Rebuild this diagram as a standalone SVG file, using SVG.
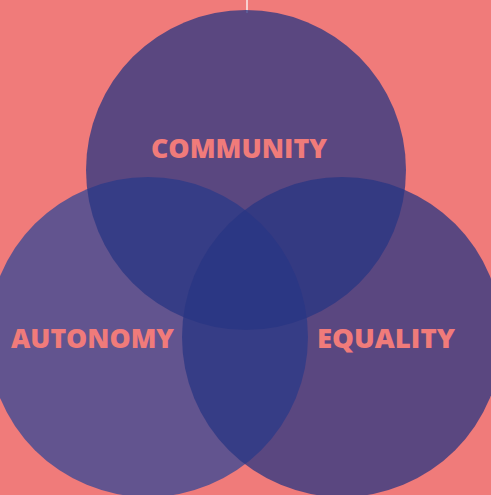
<svg xmlns="http://www.w3.org/2000/svg" width="491" height="495" viewBox="0 0 491 495">
<style>
.c{fill-opacity:0.75}
.t{font-family:"Open Sans","DejaVu Sans",sans-serif;font-weight:800;font-size:26px;fill:#F07B7A}
</style>
<rect width="491" height="495" fill="#F07B7A"/>
<g id="connectors">
<line x1="247" y1="0" x2="247" y2="13" stroke="#F8CFCF" stroke-width="2"/>
</g>
<g id="autonomy">
<circle class="c" cx="148" cy="337" r="160" fill="#334797"/>
</g>
<g id="community">
<circle class="c" cx="246" cy="170" r="160" fill="#283583"/>
</g>
<g id="equality">
<circle class="c" cx="342" cy="337" r="160" fill="#283583"/>
</g>
<g id="labels">
<text class="t" x="151" y="158" textLength="176" lengthAdjust="spacingAndGlyphs">COMMUNITY</text>
<text class="t" x="11" y="348" textLength="163" lengthAdjust="spacingAndGlyphs">AUTONOMY</text>
<text class="t" x="317" y="348" textLength="138" lengthAdjust="spacingAndGlyphs">EQUALITY</text>
</g>
</svg>
